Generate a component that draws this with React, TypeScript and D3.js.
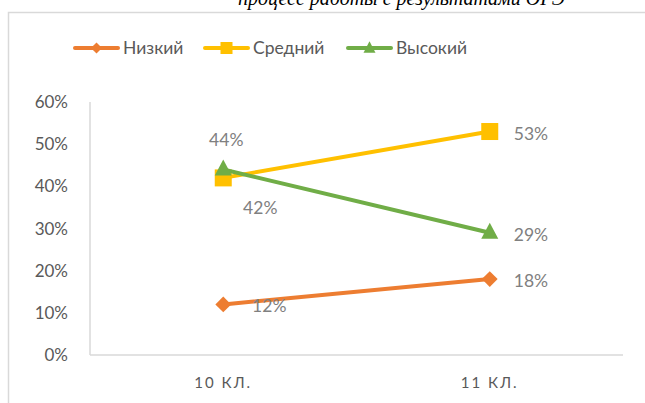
import React from "react";
import * as d3 from "d3";

const categories = ["10 КЛ.", "11 КЛ."];
const seriesNames = ["Низкий", "Средний", "Высокий"];
const lowValues = [0.12, 0.18];
const midValues = [0.42, 0.53];
const highValues = [0.44, 0.29];
const yTicks = [0, 0.1, 0.2, 0.3, 0.4, 0.5, 0.6];
const titleText = "процесс работы с результатами ОГЭ";

const colors = ["#ED7D31", "#FFC000", "#70AD47"];
const font = "Lato, 'Noto Sans', sans-serif";

const W = 645;
const H = 403;
const margin = { top: 102, right: 22, bottom: 48, left: 90 };

const App: React.FC = () => {
  const x = d3.scaleBand<string>()
    .domain(categories)
    .range([margin.left, W - margin.right]);
  const y = d3.scaleLinear()
    .domain([0, 0.6])
    .range([H - margin.bottom, margin.top]);
  const cx = (c: string) => (x(c) ?? 0) + x.bandwidth() / 2;
  const pct = d3.format(".0%");

  const series = [lowValues, midValues, highValues];
  const line = d3.line<number>()
    .x((_, i) => cx(categories[i]))
    .y(d => y(d));

  const marker = (s: number, px: number, py: number, size: number) => {
    if (s === 0) {
      const p = d3.symbol(d3.symbolDiamond2, size * size * 0.55)();
      return <path d={p!} transform={`translate(${px},${py})`} fill={colors[s]} />;
    }
    if (s === 1) {
      return <rect x={px - size / 2} y={py - size / 2} width={size} height={size} fill={colors[s]} />;
    }
    const h = size * 0.95;
    return <path d={`M${px},${py - h / 2 - 2} L${px + size / 2},${py + h / 2 - 2} L${px - size / 2},${py + h / 2 - 2}Z`} fill={colors[s]} />;
  };

  // label offsets per series, per category (dx, dy, anchor)
  const labelPos: [number, number, string][][] = [
    [[46, 8, "middle"], [24, 8, "start"]],
    [[37, 36, "middle"], [24, 8, "start"]],
    [[3, -23, "middle"], [24, 8, "start"]],
  ];

  const legendX = [75, 205, 348];

  return (
    <svg width={W} height={H} style={{ position: "absolute", left: 0, top: 0, background: "#fff" }}>
      <text x={238} y={5} fontFamily="'Liberation Serif', serif" fontStyle="italic" fontSize={20}
        fill="#000">{titleText}</text>
      <rect x={8.5} y={12.5} width={W} height={H} fill="none" stroke="#d9d9d9" strokeWidth={1.5} />

      {/* legend */}
      {seriesNames.map((n, i) => (
        <g key={n}>
          <line x1={legendX[i]} x2={legendX[i] + 43} y1={48} y2={48} stroke={colors[i]} strokeWidth={4} strokeLinecap="round" />
          {marker(i, legendX[i] + 21.5, 48 + (i === 2 ? 1 : 0), 12)}
          <text x={legendX[i] + 48} y={54} fontFamily={font} fontSize={17.5} fill="#595959">{n}</text>
        </g>
      ))}

      {/* axes */}
      <line x1={margin.left} x2={margin.left} y1={y(0.6)} y2={y(0)} stroke="#d9d9d9" strokeWidth={1.5} />
      <line x1={margin.left} x2={W - margin.right} y1={y(0)} y2={y(0)} stroke="#d9d9d9" strokeWidth={1.5} />
      {yTicks.map(t => (
        <text key={t} x={68} y={y(t) + 6} textAnchor="end" fontFamily={font} fontSize={17} fill="#595959">{pct(t)}</text>
      ))}
      {categories.map(c => (
        <text key={c} x={cx(c)} y={388} textAnchor="middle" fontFamily={font} fontSize={15}
          letterSpacing={2} fill="#595959">{c}</text>
      ))}

      {/* series */}
      {series.map((vals, s) => (
        <g key={s}>
          <path d={line(vals)!} fill="none" stroke={colors[s]} strokeWidth={4} strokeLinecap="round" />
          {vals.map((v, i) => marker(s, cx(categories[i]), y(v), 17))}
        </g>
      ))}
      {series.map((vals, s) => vals.map((v, i) => {
        const [dx, dy, anchor] = labelPos[s][i];
        return (
          <text key={`${s}-${i}`} x={cx(categories[i]) + dx} y={y(v) + dy} textAnchor={anchor as any}
            fontFamily={font} fontSize={17.5} fill="#808080">{pct(v)}</text>
        );
      }))}
    </svg>
  );
};

export default App;
